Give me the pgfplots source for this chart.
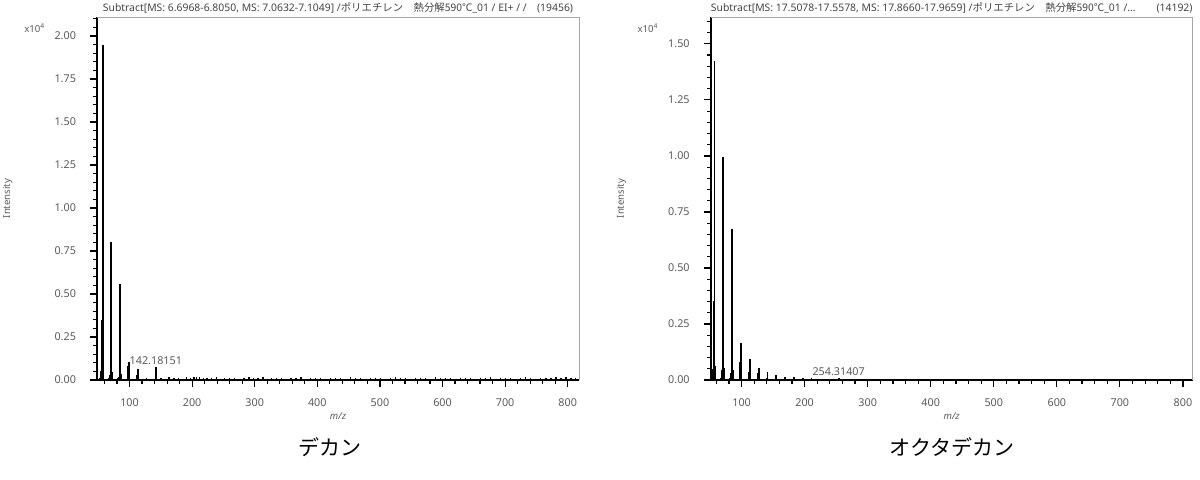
\documentclass[border=0pt]{standalone}
\usepackage{pgfplots}
\pgfplotsset{compat=1.18}
\usepackage{fontspec}
\setmainfont{Noto Sans}
\newfontfamily\jp{Noto Sans CJK JP}
\definecolor{tk}{HTML}{5a5a5a}
\definecolor{tt}{HTML}{444444}
\pgfplotsset{ms/.style={
  scale only axis, width=241pt, height=181.5pt,
  axis x line*=bottom, axis y line*=left,
  axis line style={black, line width=0.9pt},
  tick align=outside,
  major tick length=3.5pt, minor tick length=2pt,
  every tick/.append style={black, line width=0.6pt},
  tick label style={font=\fontsize{5.4}{6}\selectfont, text=tk},
  /pgf/number format/assume math mode=true,
  xtick={100,200,...,800}, minor xtick={60,80,...,800},
  xticklabel style={yshift=-2.5pt},
  yticklabel style={xshift=-3.5pt, /pgf/number format/.cd, fixed, fixed zerofill, precision=2},
  ymin=0,
  clip=false,
  xlabel={\textit{m/z}},
  ylabel={Intensity},
  every axis x label/.style={at={(axis description cs:0.5,-0.1)}, anchor=center, font=\fontsize{4.8}{5}\selectfont, text=tk},
  every axis y label/.style={at={(axis description cs:-0.185,0.5)}, anchor=center, rotate=90, font=\fontsize{4.8}{5}\selectfont, text=tk},
  every axis title/.style={at={(axis description cs:0.5,1.024)}, anchor=center, font=\fontsize{5.2}{6}\selectfont, text=tt},
}}
\begin{document}
\begin{tikzpicture}
\useasboundingbox (0,0) rectangle (600pt,240pt);
% ---------- left: decane ----------
\begin{axis}[ms, at={(48.5pt,50pt)}, anchor=south west,
  xmin=48, xmax=818, ymax=2.11,
  ytick={0,0.25,...,2.0}, minor ytick={0,0.05,...,2.11},
  title={Subtract[MS: 6.6968-6.8050, MS: 7.0632-7.1049] /{\jp ポリエチレン　熱分解590℃}\_01 / EI+ / /\quad (19456)}]
\addplot[ycomb, black, line width=0.9pt, mark=none] coordinates {
(53,0.01)(54,0.02)(55,0.05)(56,0.35)(57,1.948)(58,0.09)
(67,0.01)(68,0.01)(69,0.03)(70,0.27)(71,0.80)(72,0.045)
(82,0.01)(83,0.02)(84,0.17)(85,0.556)(86,0.035)
(96,0.005)(97,0.01)(98,0.08)(99,0.107)(100,0.01)
(111,0.005)(112,0.03)(113,0.064)(114,0.005)
(126,0.008)(127,0.012)(141,0.006)(142,0.074)(143,0.008)};
\addplot[ycomb, black, line width=0.7pt, mark=none] coordinates {
(150,0.012)(157,0.008)(163,0.016)(171,0.01)(178,0.014)(185,0.008)(191,0.018)(197,0.012)(203,0.02)(207,0.016)(212,0.018)(218,0.01)(224,0.014)(231,0.012)(239,0.016)(245,0.008)(252,0.012)(260,0.01)(268,0.014)(276,0.008)(283,0.012)(291,0.018)(298,0.01)(305,0.014)(313,0.016)(320,0.008)(327,0.012)(335,0.01)(343,0.014)(351,0.008)(358,0.012)(366,0.01)(374,0.016)(382,0.008)(389,0.012)(397,0.01)(405,0.014)(413,0.008)(421,0.012)(429,0.01)(437,0.014)(445,0.008)(453,0.016)(461,0.01)(469,0.012)(477,0.008)(485,0.014)(493,0.01)(501,0.012)(509,0.008)(517,0.014)(525,0.018)(533,0.01)(541,0.012)(549,0.008)(557,0.014)(565,0.01)(573,0.012)(581,0.008)(589,0.016)(597,0.012)(605,0.01)(613,0.014)(621,0.008)(629,0.012)(637,0.01)(645,0.014)(653,0.008)(661,0.012)(669,0.01)(677,0.016)(685,0.008)(693,0.012)(701,0.01)(709,0.014)(717,0.008)(725,0.012)(733,0.016)(741,0.01)(749,0.008)(757,0.012)(765,0.01)(773,0.014)(781,0.018)(789,0.012)(797,0.016)(805,0.014)(812,0.012)};
\node[anchor=south, inner sep=1pt, font=\fontsize{5.4}{6}\selectfont, text=tk] at (axis cs:142,0.074) {142.18151};
\draw[gray!70, line width=0.4pt] (rel axis cs:0,1) -- (rel axis cs:1,1) -- (rel axis cs:1,0);
\node[font=\fontsize{4.8}{5}\selectfont, text=tk] at (axis description cs:-0.129,0.97) {x10\textsuperscript{4}};
\end{axis}
% ---------- right: octadecane ----------
\begin{axis}[ms, at={(355.35pt,50pt)}, anchor=south west,
  xmin=51, xmax=815.5, ymax=1.62,
  ytick={0,0.25,...,1.5}, minor ytick={0,0.05,...,1.62},
  title={Subtract[MS: 17.5078-17.5578, MS: 17.8660-17.9659] /{\jp ポリエチレン　熱分解590℃}\_01 /...\qquad (14192)}]
\addplot[ycomb, black, line width=0.9pt, mark=none] coordinates {
(53,0.01)(54,0.015)(55,0.05)(56,0.353)(57,1.424)(58,0.063)
(67,0.01)(68,0.015)(69,0.045)(70,0.18)(71,0.993)(72,0.055)
(82,0.01)(83,0.03)(84,0.12)(85,0.673)(86,0.045)
(97,0.01)(98,0.082)(99,0.167)(100,0.012)
(111,0.005)(112,0.037)(113,0.094)(114,0.008)
(126,0.03)(127,0.055)(128,0.005)(140,0.01)(141,0.037)
(154,0.005)(155,0.022)(168,0.004)(169,0.015)(183,0.012)(197,0.009)
(211,0.008)(225,0.005)(239,0.004)(254,0.008)};
\node[anchor=south, inner sep=1pt, font=\fontsize{5.4}{6}\selectfont, text=tk] at (axis cs:254,0.008) {254.31407};
\draw[gray!70, line width=0.4pt] (rel axis cs:0,1) -- (rel axis cs:1,1) -- (rel axis cs:1,0);
\node[font=\fontsize{4.8}{5}\selectfont, text=tk] at (axis description cs:-0.13,0.97) {x10\textsuperscript{4}};
\end{axis}
\node[font=\jp\fontsize{10.5}{12}\selectfont] at (165pt,16.5pt) {デカン};
\node[font=\jp\fontsize{10.5}{12}\selectfont] at (476pt,16.5pt) {オクタデカン};
\end{tikzpicture}
\end{document}
